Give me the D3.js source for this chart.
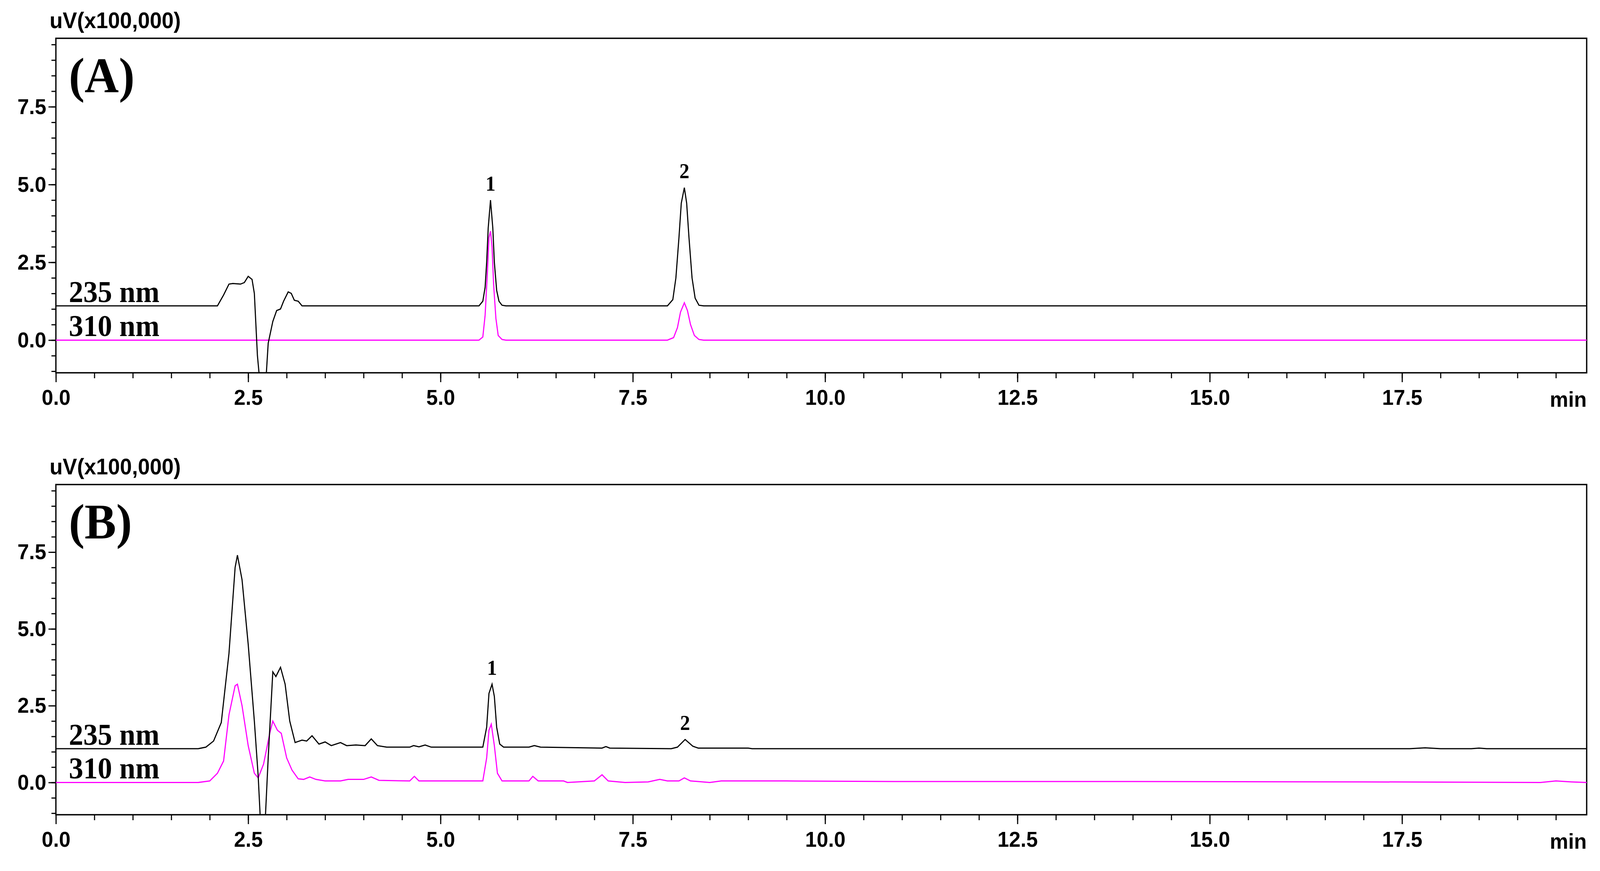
<!DOCTYPE html>
<html><head><meta charset="utf-8">
<script src="https://cdn.jsdelivr.net/npm/d3@7"></script>
<style>html,body{margin:0;padding:0;background:#fff;overflow:hidden;width:100%;height:100%}svg{display:block;width:100vw;height:100vh}</style>
</head><body>
<svg id="c" viewBox="0 0 4323 2229" preserveAspectRatio="none"></svg>
<script>
const xTicks = [0, 2.5, 5, 7.5, 10, 12.5, 15, 17.5];
const yTicks = [0, 2.5, 5, 7.5];
const panelLabels = ["(A)", "(B)"];
const traceLabels = ["235 nm", "310 nm"];
const peakNames = ["1", "2"];
const peakTimes = [[5.65, 8.17], [5.67, 8.18]];
const peakHeights = [[4.5, 4.9], [3.2, 1.4]];

const a235 = [[0,1.1],[2.1,1.1],[2.18,1.45],[2.25,1.8],[2.3,1.82],[2.4,1.8],[2.45,1.85],[2.5,2.05],[2.55,1.95],[2.58,1.5],[2.62,-0.5],[2.65,-1.3],[2.73,-1.3],[2.76,-0.1],[2.82,0.6],[2.87,0.95],[2.92,1.0],[2.96,1.25],[3.02,1.55],[3.06,1.5],[3.1,1.28],[3.15,1.25],[3.2,1.1],
 [5.5,1.1],[5.55,1.25],[5.58,1.7],[5.6,2.5],[5.62,3.6],[5.65,4.5],[5.68,3.6],[5.7,2.5],[5.73,1.6],[5.76,1.25],[5.8,1.12],[5.85,1.1],
 [7.95,1.1],[8.02,1.3],[8.06,2.0],[8.1,3.3],[8.13,4.4],[8.17,4.9],[8.2,4.4],[8.23,3.3],[8.27,2.0],[8.31,1.35],[8.36,1.12],[8.42,1.1],[19.9,1.1]];
const a310 = [[0,0],[5.5,0],[5.55,0.1],[5.58,0.8],[5.61,2.2],[5.63,3.3],[5.65,3.5],[5.67,3.0],[5.69,1.8],[5.72,0.7],[5.75,0.15],[5.8,0.02],[5.85,0],
 [7.95,0],[8.03,0.08],[8.08,0.4],[8.12,0.9],[8.17,1.2],[8.21,0.95],[8.25,0.5],[8.3,0.15],[8.36,0.02],[8.42,0],[19.9,0]];
const b235 = [[0,1.1],[1.85,1.1],[1.95,1.15],[2.05,1.35],[2.15,1.95],[2.25,4.2],[2.33,7.0],[2.36,7.4],[2.42,6.6],[2.5,4.5],[2.58,2.0],[2.63,0.2],[2.66,-1.3],[2.72,-1.3],[2.76,0.8],[2.82,3.6],[2.86,3.45],[2.92,3.75],[2.98,3.2],[3.04,2.0],[3.11,1.3],[3.2,1.38],[3.26,1.35],[3.33,1.52],[3.42,1.25],[3.5,1.32],[3.58,1.2],[3.7,1.3],[3.78,1.2],[3.9,1.22],[4.02,1.2],[4.1,1.42],[4.18,1.2],[4.3,1.15],[4.6,1.15],[4.65,1.2],[4.72,1.16],[4.8,1.22],[4.88,1.15],
 [5.55,1.15],[5.6,1.8],[5.63,2.9],[5.67,3.2],[5.7,2.8],[5.73,1.8],[5.77,1.25],[5.82,1.15],[6.15,1.15],[6.22,1.2],[6.3,1.15],[7.1,1.12],[7.15,1.17],[7.2,1.12],[8.0,1.1],[8.08,1.15],[8.18,1.4],[8.28,1.18],[8.35,1.12],[9.0,1.12],[9.05,1.1],[17.6,1.1],[17.8,1.13],[18.0,1.1],[18.4,1.1],[18.5,1.12],[18.6,1.1],[19.9,1.1]];
const b310 = [[0,0],[1.85,0],[2.0,0.05],[2.1,0.3],[2.18,0.7],[2.25,2.2],[2.33,3.15],[2.36,3.2],[2.42,2.5],[2.5,1.2],[2.58,0.3],[2.63,0.15],[2.7,0.6],[2.78,1.6],[2.82,2.0],[2.88,1.7],[2.93,1.6],[3.0,0.8],[3.07,0.4],[3.15,0.12],[3.22,0.1],[3.3,0.18],[3.38,0.1],[3.5,0.05],[3.7,0.05],[3.8,0.1],[4.0,0.1],[4.1,0.18],[4.2,0.07],[4.6,0.05],[4.66,0.2],[4.72,0.05],
 [5.55,0.05],[5.6,0.8],[5.63,1.7],[5.66,1.9],[5.7,1.2],[5.74,0.3],[5.8,0.05],[6.15,0.05],[6.2,0.2],[6.27,0.05],[6.6,0.05],[6.65,0],[7.0,0.05],[7.1,0.25],[7.18,0.05],[7.4,0],[7.7,0.02],[7.85,0.1],[7.95,0.05],[8.1,0.05],[8.17,0.15],[8.25,0.05],[8.5,0],[8.65,0.05],[8.75,0.05],[9.5,0.05],[11,0.03],[14,0.03],[17,0.02],[19.3,0],[19.5,0.05],[19.7,0.02],[19.9,0]];

const panels = [{top:98, bottom:954, traces:[a235,a310]}, {top:1240, bottom:2085, traces:[b235,b310]}];
const left = 151, right = 4287;
const svg = d3.select("#c");
const x = d3.scaleLinear().domain([0, 19.9]).range([left, right]);
const colors = ["#000000", "#ff00ff"];

panels.forEach((p, i) => {
  const y = d3.scaleLinear().domain([-1.05, 9.7]).range([p.bottom, p.top]);
  const g = svg.append("g");
  const cid = "clip" + i;
  svg.append("clipPath").attr("id", cid).append("rect")
    .attr("x", left).attr("y", p.top).attr("width", right - left).attr("height", p.bottom - p.top);
  g.append("g").attr("transform", `translate(0,${p.bottom})`)
    .call(d3.axisBottom(x).tickValues(d3.range(0, 19.9, 0.5)).tickSize(14).tickFormat(""))
    .call(a => a.select(".domain").remove()).selectAll("line").attr("stroke-width", 3);
  g.append("g").attr("transform", `translate(0,${p.bottom})`)
    .call(d3.axisBottom(x).tickValues(xTicks).tickSize(24).tickPadding(18).tickFormat(d3.format(".1f")))
    .call(a => a.select(".domain").remove())
    .call(a => a.selectAll("line").attr("stroke-width", 3))
    .selectAll("text").attr("font-family", "Liberation Sans, Arial, sans-serif").attr("font-weight", "bold").attr("font-size", 56);
  g.append("g").attr("transform", `translate(${left},0)`)
    .call(d3.axisLeft(y).tickValues(d3.range(-1, 9.7, 0.5)).tickSize(12).tickFormat(""))
    .call(a => a.select(".domain").remove()).selectAll("line").attr("stroke-width", 3);
  g.append("g").attr("transform", `translate(${left},0)`)
    .call(d3.axisLeft(y).tickValues(yTicks).tickSize(20).tickPadding(6).tickFormat(d3.format(".1f")))
    .call(a => a.select(".domain").remove())
    .call(a => a.selectAll("line").attr("stroke-width", 3))
    .selectAll("text").attr("font-family", "Liberation Sans, Arial, sans-serif").attr("font-weight", "bold").attr("font-size", 56);
  g.append("rect").attr("x", left).attr("y", p.top).attr("width", right - left).attr("height", p.bottom - p.top)
    .attr("fill", "none").attr("stroke", "#000").attr("stroke-width", 3.5);
  const line = d3.line().x(d => x(d[0])).y(d => y(d[1]));
  [1, 0].forEach(k => {
    g.append("path").attr("d", line(p.traces[k])).attr("fill", "none").attr("stroke", colors[k])
      .attr("stroke-width", 3).attr("clip-path", `url(#${cid})`);
  });
  g.append("text").attr("x", 134).attr("y", p.top - 26).text("uV(x100,000)")
    .attr("font-family", "Liberation Sans, Arial, sans-serif").attr("font-weight", "bold").attr("font-size", 58);
  g.append("text").attr("x", right).attr("y", p.bottom + 87).attr("text-anchor", "end").text("min")
    .attr("font-family", "Liberation Sans, Arial, sans-serif").attr("font-weight", "bold").attr("font-size", 56);
  g.append("text").attr("x", 186).attr("y", p.top + 138).text(panelLabels[i])
    .attr("font-family", "Liberation Serif, Times New Roman, serif").attr("font-weight", "bold").attr("font-size", 128);
  g.append("text").attr("x", 186).attr("y", y(1.1) - 10).text(traceLabels[0])
    .attr("font-family", "Liberation Serif, Times New Roman, serif").attr("font-weight", "bold").attr("font-size", 78);
  g.append("text").attr("x", 186).attr("y", y(0) - 10).text(traceLabels[1])
    .attr("font-family", "Liberation Serif, Times New Roman, serif").attr("font-weight", "bold").attr("font-size", 78);
  peakNames.forEach((n, k) => {
    g.append("text").attr("x", x(peakTimes[i][k])).attr("y", y(peakHeights[i][k]) - 24)
      .attr("text-anchor", "middle").text(n)
      .attr("font-family", "Liberation Serif, Times New Roman, serif").attr("font-weight", "bold").attr("font-size", 54);
  });
});
</script>
</body></html>
